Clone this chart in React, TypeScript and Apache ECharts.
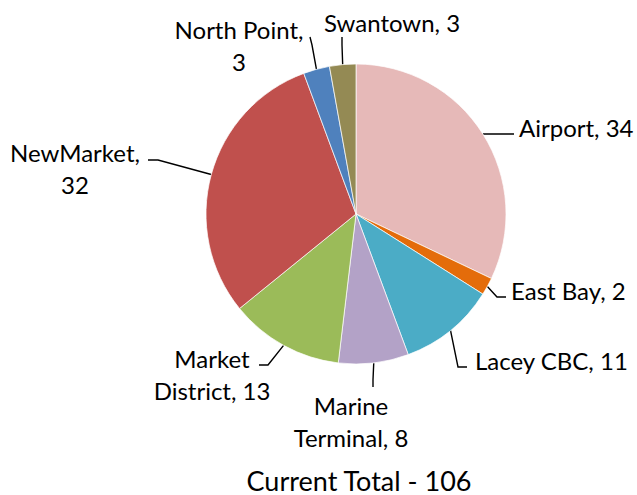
import React, { useEffect, useRef } from "react";
import * as echarts from "echarts";

const categories = ["Airport", "East Bay", "Lacey CBC", "Marine Terminal", "Market District", "NewMarket", "North Point", "Swantown"];
const values = [34, 2, 11, 8, 13, 32, 3, 3];
const colors = ["#E6B9B8", "#E46C0A", "#4BACC6", "#B3A2C7", "#9BBB59", "#C0504D", "#4F81BD", "#948A54"];
const titleText = "Current Total - 106";

// label presentation (positions / line breaks)
const labelLayouts = [
  { x: 519, y: 127, align: "left", brk: "", mid: [508, 134], end: [514, 134] },
  { x: 511, y: 290, align: "left", brk: "", mid: [497, 297], end: [506, 297] },
  { x: 475, y: 360, align: "left", brk: "", mid: [458, 367], end: [467, 367] },
  { x: 351, y: 421, align: "center", brk: "Marine\n", mid: [373, 380], end: [373, 387] },
  { x: 212, y: 374, align: "center", brk: "Market\n", mid: [268, 365], end: [259, 365] },
  { x: 75, y: 168, align: "center", brk: "NewMarket,\n", mid: [158, 160], end: [148, 160] },
  { x: 239, y: 45, align: "center", brk: "North Point,\n", mid: [312, 45], end: [310, 37] },
  { x: 392, y: 22, align: "center", brk: "", mid: [342, 45], end: [342, 37] },
];

const CX = 356;
const CY = 214;
const R = 150;

export default function App() {
  const ref = useRef<HTMLDivElement>(null);
  useEffect(() => {
    if (!ref.current) return;
    const chart = echarts.init(ref.current, null, { renderer: "svg" });
    const total = values.reduce((a, b) => a + b, 0);
    const starts: number[][] = [];
    let cum = 0;
    values.forEach((v) => {
      const midFrac = (cum + v / 2) / total;
      const ang = midFrac * Math.PI * 2;
      starts.push([CX + R * Math.sin(ang), CY - R * Math.cos(ang)]);
      cum += v;
    });
    const font = "Lato, 'Open Sans', sans-serif";
    chart.setOption({
      animation: false,
      graphic: [
        {
          type: "text",
          x: 359,
          y: 480,
          style: {
            text: titleText,
            align: "center",
            verticalAlign: "middle",
            fontFamily: font,
            fontSize: 27,
            lineHeight: 27,
            fill: "#000",
          },
        },
      ],
      series: [
        {
          type: "pie",
          center: [CX, CY],
          radius: R,
          startAngle: 90,
          clockwise: true,
          avoidLabelOverlap: false,
          itemStyle: { borderColor: "#ffffff", borderWidth: 0.7 },
          label: {
            show: true,
            color: "#000",
            fontFamily: font,
            fontSize: 24,
            lineHeight: 32,
            formatter: (p: any) => {
              const L = labelLayouts[p.dataIndex];
              if (L.brk) {
                const rest = p.name + ", " + p.value;
                const first = L.brk.replace("\n", "");
                const second = rest.substring(first.length).replace(/^,/, "").trim();
                return first + "\n" + (first.endsWith(",") ? String(p.value) : second);
              }
              return p.name + ", " + p.value;
            },
          },
          labelLine: { show: true, lineStyle: { color: "#000", width: 1.4 } },
          labelLayout: (params: any) => {
            const i = params.dataIndex;
            const L = labelLayouts[i];
            return {
              x: L.x,
              y: L.y,
              align: L.align,
              verticalAlign: "middle",
              labelLinePoints: [starts[i], L.mid, L.end],
            };
          },
          data: categories.map((c, i) => ({ name: c, value: values[i], itemStyle: { color: colors[i] } })),
        },
      ],
    });
    return () => chart.dispose();
  }, []);
  return <div ref={ref} style={{ position: "fixed", left: 0, top: 0, width: 637, height: 495, background: "#fff" }} />;
}
